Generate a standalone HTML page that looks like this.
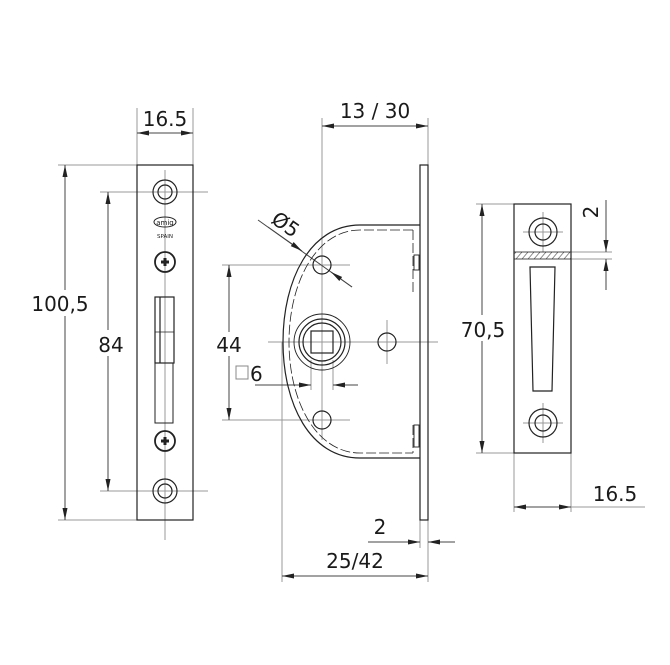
<!DOCTYPE html>
<html><head><style>
html,body{margin:0;padding:0;background:#fff;}
svg{display:block;}
text{font-family:"DejaVu Sans","Liberation Sans",sans-serif;fill:#1a1a1a;}
</style></head><body>
<svg width="670" height="665" viewBox="0 0 670 665" xmlns="http://www.w3.org/2000/svg">
<defs>
<marker id="a" markerWidth="12" markerHeight="6" refX="12" refY="3" orient="auto-start-reverse" markerUnits="userSpaceOnUse">
<path d="M0,0.5 L12,3 L0,5.5 z" fill="#222"/></marker>
<pattern id="h" width="6" height="7" patternUnits="userSpaceOnUse"><path d="M0,7 L6,0" stroke="#777" stroke-width="0.8"/></pattern>
</defs>
<g stroke="#999" stroke-width="1" fill="none">
<line x1="137" y1="108" x2="137" y2="165"/><line x1="193" y1="108" x2="193" y2="165"/>
<line x1="58" y1="165" x2="137" y2="165"/><line x1="58" y1="520" x2="137" y2="520"/>
<line x1="100" y1="192" x2="208" y2="192"/><line x1="100" y1="491" x2="208" y2="491"/>
<line x1="165" y1="170" x2="165" y2="540"/>
<line x1="322" y1="118" x2="322" y2="440"/><line x1="428" y1="118" x2="428" y2="165"/>
<line x1="222" y1="265" x2="350" y2="265"/><line x1="222" y1="420" x2="350" y2="420"/>
<line x1="268" y1="342" x2="438" y2="342"/>
<line x1="387" y1="320" x2="387" y2="364"/>
<line x1="282" y1="342" x2="282" y2="582"/><line x1="428" y1="520" x2="428" y2="582"/><line x1="420" y1="520" x2="420" y2="548"/>
<line x1="311" y1="360" x2="311" y2="390"/><line x1="333" y1="360" x2="333" y2="390"/>
<line x1="476" y1="204" x2="514" y2="204"/><line x1="476" y1="453" x2="514" y2="453"/>
<line x1="514" y1="453" x2="514" y2="512"/><line x1="571" y1="453" x2="571" y2="512"/>
<line x1="543" y1="212" x2="543" y2="252"/><line x1="523" y1="232" x2="563" y2="232"/>
<line x1="543" y1="403" x2="543" y2="443"/><line x1="523" y1="423" x2="563" y2="423"/>
<line x1="571" y1="252" x2="612" y2="252"/><line x1="571" y1="259" x2="612" y2="259"/>
<line x1="571" y1="507" x2="645" y2="507"/>
</g>
<g stroke="#444" stroke-width="1" fill="none">
<line x1="137" y1="133" x2="193" y2="133" marker-start="url(#a)" marker-end="url(#a)"/>
<line x1="65" y1="165" x2="65" y2="520" marker-start="url(#a)" marker-end="url(#a)"/>
<line x1="108" y1="192" x2="108" y2="491" marker-start="url(#a)" marker-end="url(#a)"/>
<line x1="322" y1="126" x2="428" y2="126" marker-start="url(#a)" marker-end="url(#a)"/>
<line x1="229" y1="265" x2="229" y2="420" marker-start="url(#a)" marker-end="url(#a)"/>
<line x1="255" y1="385" x2="311" y2="385" marker-end="url(#a)"/>
<line x1="358" y1="385" x2="333" y2="385" marker-end="url(#a)"/>
<line x1="258" y1="220" x2="352" y2="287"/>
<line x1="268" y1="227" x2="302" y2="251" marker-end="url(#a)"/>
<line x1="352" y1="287" x2="331" y2="272" marker-end="url(#a)"/>
<line x1="368" y1="542" x2="420" y2="542" marker-end="url(#a)"/>
<line x1="455" y1="542" x2="428" y2="542" marker-end="url(#a)"/>
<line x1="282" y1="576" x2="428" y2="576" marker-start="url(#a)" marker-end="url(#a)"/>
<line x1="482" y1="204" x2="482" y2="453" marker-start="url(#a)" marker-end="url(#a)"/>
<line x1="514" y1="507" x2="571" y2="507" marker-start="url(#a)" marker-end="url(#a)"/>
<line x1="606" y1="200" x2="606" y2="252" marker-end="url(#a)"/>
<line x1="606" y1="290" x2="606" y2="259" marker-end="url(#a)"/>
</g>
<g stroke="#222" stroke-width="1.2" fill="none">
<rect x="137" y="165" width="56" height="355"/>
<circle cx="165" cy="192" r="12"/><circle cx="165" cy="192" r="7"/>
<circle cx="165" cy="491" r="12"/><circle cx="165" cy="491" r="7"/>
<circle cx="165" cy="262" r="10" stroke-width="1.8"/><circle cx="165" cy="441" r="10" stroke-width="1.8"/>
<path d="M161 262h8M165 258v8M161 441h8M165 437v8" stroke-width="3"/>
<rect x="155" y="297" width="19" height="66"/>
<rect x="155" y="363" width="18" height="60" stroke-width="1"/>
<line x1="160" y1="297" x2="160" y2="363"/><line x1="155" y1="332" x2="174" y2="332" stroke-width="0.8"/>
<ellipse cx="165" cy="222" rx="11" ry="5" stroke-width="1"/>
</g>
<text x="165" y="225" font-size="7" text-anchor="middle">amig</text>
<text x="165" y="238" font-size="5.5" text-anchor="middle">SPAIN</text>
<g stroke="#222" stroke-width="1.2" fill="none">
<rect x="420" y="165" width="8" height="355"/>
<path d="M420 225 H360 C310 225 283 280 283 342 C283 404 310 458 360 458 H420"/>
<path d="M413 230 H360 C316 230 289 283 289 342 C289 401 316 453 360 453 H413 M413 230 V295 M413 425 V453" stroke-dasharray="10 3" stroke-width="0.8"/>
<rect x="414" y="255" width="5" height="15" stroke-width="0.9"/>
<rect x="414" y="425" width="5" height="22" stroke-width="0.9"/>
<circle cx="322" cy="265" r="9"/><circle cx="322" cy="420" r="9"/><circle cx="387" cy="342" r="9"/>
<circle cx="322" cy="342" r="28" stroke-width="0.9"/><circle cx="322" cy="342" r="23"/><circle cx="322" cy="342" r="19"/>
<rect x="311" y="331" width="22" height="22"/>
</g>
<g stroke="#222" stroke-width="1.2" fill="none">
<rect x="514" y="204" width="57" height="249"/>
<rect x="514" y="252" width="57" height="7" fill="url(#h)" stroke-width="0.8"/>
<circle cx="543" cy="232" r="14"/><circle cx="543" cy="232" r="8"/>
<circle cx="543" cy="423" r="14"/><circle cx="543" cy="423" r="8"/>
<path d="M530 267 H555 L552 391 H533 Z"/>
</g>
<g font-size="20">
<text x="165" y="126" text-anchor="middle">16.5</text>
<rect x="28" y="290" width="64" height="26" fill="#fff"/>
<text x="60" y="311" text-anchor="middle">100,5</text>
<rect x="96" y="330" width="30" height="26" fill="#fff"/>
<text x="111" y="352" text-anchor="middle">84</text>
<text x="375" y="118" text-anchor="middle">13 / 30</text>
<text x="0" y="0" transform="translate(270,222) rotate(35)">Ø5</text>
<rect x="213" y="332" width="32" height="24" fill="#fff"/>
<text x="229" y="352" text-anchor="middle">44</text>
<rect x="236" y="366" width="12" height="13" fill="none" stroke="#888" stroke-width="1"/>
<text x="250" y="381">6</text>
<text x="380" y="534" text-anchor="middle">2</text>
<text x="355" y="568" text-anchor="middle">25/42</text>
<rect x="462" y="315" width="42" height="26" fill="#fff"/>
<text x="483" y="337" text-anchor="middle">70,5</text>
<text x="615" y="501" text-anchor="middle">16.5</text>
<text x="0" y="0" transform="translate(598,212) rotate(-90)" text-anchor="middle">2</text>
</g>
</svg>
</body></html>
